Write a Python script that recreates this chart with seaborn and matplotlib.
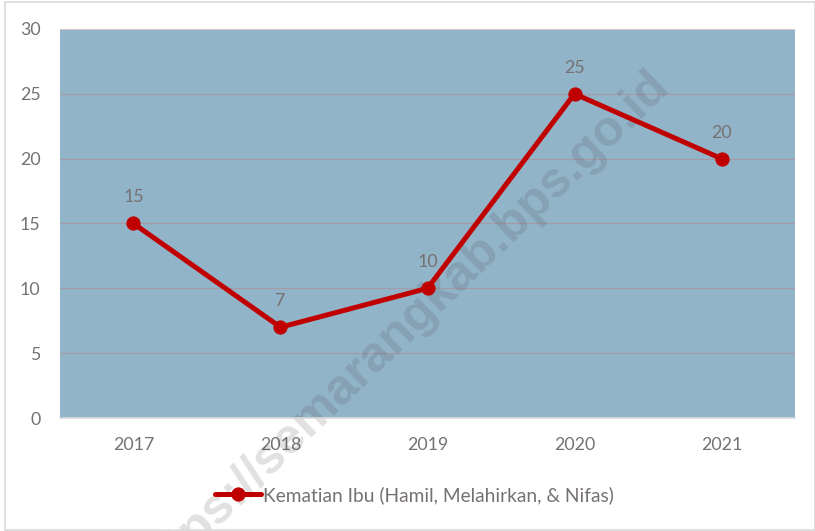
import matplotlib.pyplot as plt
import pandas as pd
import seaborn as sns
from matplotlib.patches import Rectangle

# data
years = ['2017', '2018', '2019', '2020', '2021']
kematian_ibu = [15, 7, 10, 25, 20]
series_name = 'Kematian Ibu (Hamil, Melahirkan, & Nifas)'

df = pd.DataFrame({'Tahun': years, series_name: kematian_ibu})

sns.set_theme(style='white')
plt.rcParams['font.family'] = ['Lato', 'DejaVu Sans']

text_grey = '#767171'
line_red = '#C00000'

fig = plt.figure(figsize=(8.15, 5.31), dpi=100)
ax = fig.add_axes([0.0736, 0.2128, 0.9019, 0.7326])
ax.set_facecolor('#92B4C9')

# garis bantu horizontal
for v in [5, 10, 15, 20, 25]:
    ax.axhline(v, color='#A39CA8', lw=0.9, zorder=1)
ax.axhline(30, color='#EBC9C9', lw=1.2, zorder=1)

sns.lineplot(data=df, x='Tahun', y=series_name, ax=ax, color=line_red,
             lw=3.6, marker='o', markersize=9.5, markeredgecolor=line_red,
             label=series_name, zorder=3, sort=False)

# label nilai di atas titik
for i, val in enumerate(kematian_ibu):
    ax.annotate(str(val), (i, val), xytext=(0, 13), textcoords='offset points',
                ha='center', va='bottom', fontsize=12.8, color=text_grey)

ax.set_xlim(-0.5, 4.5)
ax.set_ylim(0, 30)
ax.set_yticks(range(0, 31, 5))
ax.set_xlabel('')
ax.set_ylabel('')
ax.tick_params(axis='both', length=0, labelsize=12.8, labelcolor=text_grey)
ax.tick_params(axis='x', pad=14)
ax.tick_params(axis='y', pad=14)

for s in ['top', 'right', 'left']:
    ax.spines[s].set_visible(False)
ax.spines['bottom'].set_color('#D9D9D9')
ax.spines['bottom'].set_linewidth(1.2)

ax.get_legend().remove()
handles, labels = ax.get_legend_handles_labels()
fig.legend(handles, labels, loc='center', bbox_to_anchor=(0.508, 0.068),
           frameon=False, fontsize=13.8, labelcolor=text_grey,
           handlelength=2.4, handletextpad=0.1)

# bingkai
fig.patches.append(Rectangle((0.006, 0.002), 0.994, 0.995, transform=fig.transFigure,
                             fill=False, edgecolor='#D9D9D9', lw=1.2))

# watermark (di bawah garis data)
ax.text(0.492, 0.378, 'https://semarangkab.bps.go.id', rotation=44,
        transform=fig.transFigure, clip_on=False,
        ha='center', va='center', fontsize=36, fontweight='bold',
        family=['Liberation Sans', 'DejaVu Sans'], color='#404040', alpha=0.16,
        zorder=2)

fig.savefig('out.png', dpi=100)
